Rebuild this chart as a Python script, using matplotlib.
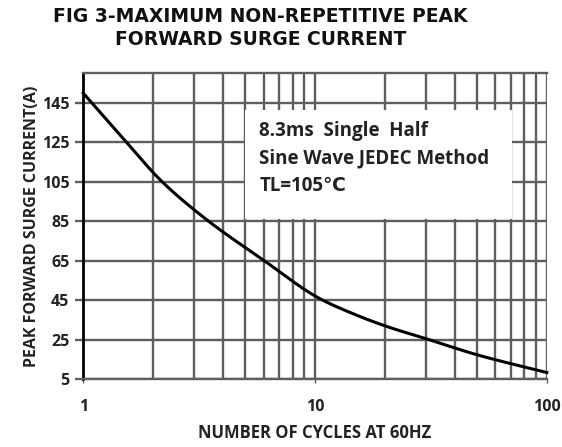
import numpy as np
import matplotlib.pyplot as plt
from matplotlib.patches import Rectangle

# curve
cycles = [1, 1.54, 2.17, 3.39, 6.04, 10.4, 14, 20, 31, 50, 100]
current = [150, 125, 105.5, 86, 65, 46, 39, 32, 25, 17.3, 8.3]
yticks = [5, 25, 45, 65, 85, 105, 125, 145]
xticks = [1, 10, 100]


def pchip(xk, yk, xs):
    # monotone cubic through the read points (Fritsch-Carlson)
    h = np.diff(xk)
    d = np.diff(yk) / h
    m = np.zeros_like(yk)
    for i in range(1, len(xk) - 1):
        if d[i - 1] * d[i] > 0:
            w1 = 2 * h[i] + h[i - 1]
            w2 = h[i] + 2 * h[i - 1]
            m[i] = (w1 + w2) / (w1 / d[i - 1] + w2 / d[i])
    m[0] = d[0]
    m[-1] = d[-1]
    idx = np.clip(np.searchsorted(xk, xs) - 1, 0, len(h) - 1)
    t = (xs - xk[idx]) / h[idx]
    h00 = 2 * t ** 3 - 3 * t ** 2 + 1
    h10 = t ** 3 - 2 * t ** 2 + t
    h01 = -2 * t ** 3 + 3 * t ** 2
    h11 = t ** 3 - t ** 2
    return (h00 * yk[idx] + h10 * h[idx] * m[idx]
            + h01 * yk[idx + 1] + h11 * h[idx] * m[idx + 1])


fig = plt.figure(figsize=(5.62, 4.47), dpi=100)
ax = fig.add_axes([0.148, 0.152, 0.825, 0.684])

grid_col = '#5e5e5e'
ax.set_xscale('log')
ax.set_xlim(1, 100)
ax.set_ylim(5, 160)

# grid
for x in list(range(2, 10)) + list(range(20, 101, 10)) + [10]:
    ax.axvline(x, color=grid_col, lw=1.7, zorder=1)
for y in yticks:
    ax.axhline(y, color=grid_col, lw=1.7, zorder=1)

lx = np.log10(cycles)
ls = np.linspace(lx[0], lx[-1], 400)
ax.plot(10 ** ls, pchip(lx, np.array(current, dtype=float), ls),
        color='black', lw=2.2, zorder=4, clip_on=False)

# note box
ax.add_patch(Rectangle((0.35, 0.525), 0.575, 0.355, transform=ax.transAxes,
                       facecolor='white', edgecolor='none', zorder=3))
ax.text(0.38, 0.845, '8.3ms  Single  Half\nSine Wave JEDEC Method\nTL=105℃',
        transform=ax.transAxes, va='top', ha='left', fontsize=13.5,
        fontweight='bold', family=['Open Sans', 'DejaVu Sans'], linespacing=1.5,
        color='#222222', zorder=5)

ax.spines['top'].set_color(grid_col)
ax.spines['top'].set_linewidth(1.7)
ax.spines['right'].set_visible(False)
ax.spines['bottom'].set_color(grid_col)
ax.spines['bottom'].set_linewidth(1.7)
ax.spines['left'].set_color('black')
ax.spines['left'].set_linewidth(2)

ax.set_yticks(yticks)
ax.set_yticklabels([str(v) for v in yticks])
ax.set_xticks(xticks)
ax.set_xticklabels(['1', '10', '100'])
ax.xaxis.set_minor_locator(plt.NullLocator())
ax.tick_params(axis='y', length=6, width=1.7, color=grid_col, pad=4)
ax.tick_params(axis='x', length=3, width=1, color=grid_col, pad=11)
for lab in ax.get_yticklabels() + ax.get_xticklabels():
    lab.set_fontweight('bold')
    lab.set_fontsize(11.5)
    lab.set_family('Open Sans')
    lab.set_color('#222222')

ax.set_xlabel('NUMBER OF CYCLES AT 60HZ', fontsize=12, fontweight='bold',
              family='Open Sans', labelpad=7, color='#222222')
ax.set_ylabel('PEAK FORWARD SURGE CURRENT(A)', fontsize=11.5, fontweight='bold',
              family='Open Sans', labelpad=1, color='#222222')

fig.text(0.463, 0.985, 'FIG 3-MAXIMUM NON-REPETITIVE PEAK\nFORWARD SURGE CURRENT',
         ha='center', va='top', fontsize=13.5, fontweight='bold',
         family='DejaVu Sans', linespacing=1.3, color='#111111')

fig.savefig('out.png', dpi=100)
